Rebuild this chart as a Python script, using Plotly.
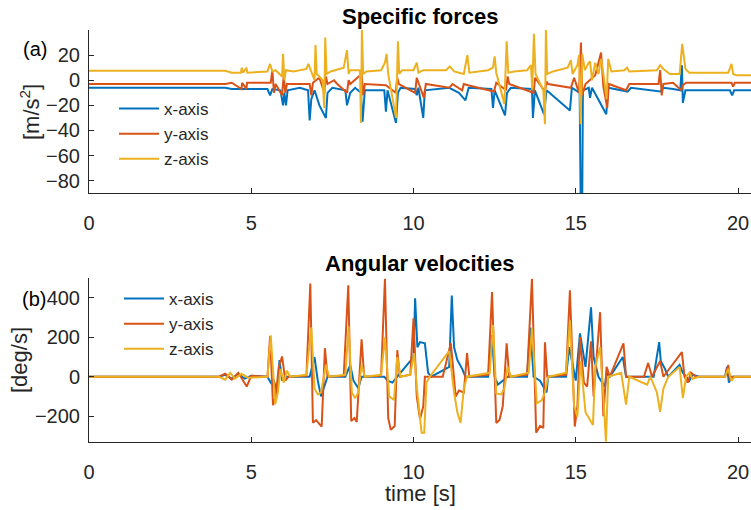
import plotly.graph_objects as go
from plotly.subplots import make_subplots

# ---------------- DATA ----------------
series_names = ["x-axis", "y-axis", "z-axis"]
colors = ["#0072BD", "#D95319", "#EDB120"]

# Specific forces [m/s^2]
fx_t = [0, 4.2, 4.4, 5.5, 5.58, 5.65, 5.9, 5.98, 6.02, 6.07, 6.12, 6.5, 6.75, 6.8, 6.85, 6.95, 7.1, 7.3, 7.35, 7.5,
        7.9, 7.95, 8.05, 8.2, 8.38, 8.43, 8.5, 9.1, 9.15, 9.2, 9.46, 9.52, 9.6, 10.05, 10.1, 10.15, 10.3, 10.35,
        11.1, 11.4, 11.6, 11.7, 12.4, 12.45, 12.5, 12.82, 12.88, 13.0, 13.65, 13.68, 13.74, 14.02, 14.1,
        14.82, 14.88, 15.12, 15.15, 15.2, 15.22, 15.4, 15.44, 15.5, 15.94, 16.0, 16.6, 16.7, 17.6, 17.7,
        18.0, 18.22, 18.27, 18.3, 18.38, 19.75, 19.82, 19.88, 20.4]
fx_v = [-6, -6, -7, -7, -12, -7, -8, -20, -10, -20, -8, -6, -8, -32, -15, -8, -20, -30, -10, -6,
        -8, -20, -10, -6, -10, -33, -8, -8, -25, -8, -34, -10, -6, -7, -12, -6, -30, -8,
        -6, -10, -16, -6, -7, -22, -8, -28, -10, -6, -7, -30, -8, -27, -8,
        -24, -6, -10, -95, -95, -8, -6, -14, -6, -27, -6, -9, -6, -9, -6,
        -7, -8, 12, -18, -8, -8, -12, -8, -8]

fy_t = [0, 4.2, 4.4, 4.7, 4.72, 4.85, 4.87, 5.5, 5.6, 5.65, 5.7, 5.75, 5.95, 6.0, 6.05, 6.1,
        6.8, 6.85, 6.9, 7.1, 7.25, 7.3, 7.35, 7.55, 7.65, 7.95, 8.0, 8.05, 8.4, 8.45, 8.5,
        9.15, 9.45, 9.5, 9.55, 10.05, 10.1, 10.32, 10.38, 11.1, 11.2, 11.5, 11.55, 11.68,
        12.48, 12.55, 12.85, 12.9, 12.95, 13.7, 13.75, 14.05, 14.1, 14.15,
        14.85, 14.95, 15.1, 15.16, 15.2, 15.3, 15.6, 15.78, 15.85, 15.97, 16.02,
        16.55, 16.65, 17.55, 17.6, 17.65, 17.7, 18.0, 18.25, 18.3, 18.4, 19.8, 19.85, 19.9, 20.4]
fy_v = [-3, -3, -2, -7, -2, -7, -2, -2, -2, 8, -10, -3, -12, 4, -10, -3,
        -3, -12, -2, 2, -10, 3, -3, 0, -3, -10, 0, -3, 5, -12, -3,
        -4, -10, 2, -3, -10, 2, -14, -3, -6, -3, -8, -3, -4,
        -9, -2, -8, 3, -3, -10, 2, -9, -1, -3,
        -6, 2, -10, 30, -12, -3, 4, 22, -5, -22, -3,
        -8, -3, -3, 8, -12, -3, -2, -8, -4, -2, -2, -5, -2, -2]

fz_t = [0, 4.2, 4.4, 4.68, 4.71, 4.75, 4.85, 4.88, 5.5, 5.58, 5.65, 5.75, 5.95, 5.98, 6.02, 6.07, 6.3,
        6.7, 6.76, 6.85, 6.95, 6.98, 7.02, 7.2, 7.25, 7.28, 7.32, 7.45, 7.85, 7.95, 8.0, 8.05,
        8.35, 8.38, 8.41, 8.45, 8.55, 9.0, 9.12, 9.17, 9.22, 9.46, 9.52, 9.56, 9.65,
        10.0, 10.1, 10.15, 10.3, 11.0, 11.12, 11.25, 11.55, 11.66, 11.72,
        12.3, 12.45, 12.5, 12.55, 12.8, 12.87, 12.92, 13.1, 13.5, 13.62, 13.66, 13.71, 13.76,
        14.0, 14.05, 14.08, 14.12, 14.3, 14.75, 14.85, 14.9, 15.05, 15.1, 15.15, 15.2, 15.28,
        15.4, 15.44, 15.5, 15.6, 15.7, 15.78, 15.85, 15.95, 16.0, 16.1, 16.5, 16.58, 16.65,
        17.5, 17.6, 17.7, 17.9, 18.2, 18.28, 18.32, 18.38, 18.5, 19.7, 19.8, 19.85, 19.95, 20.4]
fz_v = [7.5, 7.5, 6, 6, 10, 6, 10, 6, 7, 13, 7, 8, 3, 21, 0, 8, 7,
        9, 13, 6, 0, 28, 5, 0, -22, 34, 5, 7, 10, 24, 5, 8,
        8, -34, 40, 5, 7, 8, 14, 21, 5, -30, 31, 5, 8,
        8, 14, 6, 8, 8, 11, 7, 5, 20, 6,
        8, 10, 19, 6, -19, 31, 6, 7, 8, 12, -8, 37, 5,
        -8, -35, 40, 5, 7, 10, 16, 5, 12, 20, -35, 21, 8,
        14, 15, 0, 14, 5, 17, 5, -15, 17, 7, 8, 10, 7,
        8, 12, 9, 5, 5, 29, 22, 9, 6, 6, 13, 5, 4, 4]

# Angular velocities [deg/s]
wx_t = [0, 4.0, 4.2, 4.4, 4.6, 4.8, 5.0, 5.5, 5.6, 5.68, 5.8, 5.87, 5.95, 6.05, 6.8,
        6.95, 7.05, 7.15, 7.25, 7.35, 7.9, 8.05, 8.15, 8.3, 8.4, 9.1, 9.2, 9.35, 9.5,
        10.0, 10.05, 10.12, 10.2, 10.35, 10.45, 10.55, 11.1, 11.18, 11.25, 11.35, 11.5, 11.6,
        12.3, 12.42, 12.5, 12.6, 12.75, 12.9, 13.5, 13.6, 13.7, 13.9, 14.1, 14.15,
        14.7, 14.8, 15.0, 15.13, 15.3, 15.47, 15.55, 15.7, 15.9, 15.95, 16.05,
        16.45, 16.55, 17.4, 17.57, 17.62, 17.75, 17.85, 18.2, 18.3, 18.5, 18.6, 18.8,
        19.6, 19.66, 19.72, 19.8, 20.4]
wx_v = [0, 0, 10, -10, 15, -10, 5, 0, -30, -10, -80, 85, -20, 0, 0,
        100, -20, -100, -50, 0, 0, 60, -20, -58, 0, 0, -20, -30, 0,
        100, 398, 150, 176, 170, 20, 0, 50, 413, 150, 85, 40, 0,
        0, 210, 0, -40, -20, 0, 0, 250, 0, -20, -80, 0,
        0, 150, -20, 220, 50, 353, 100, 0, -50, 20, 0,
        100, 0, 0, 176, 80, 40, 0, 60, 20, -20, 10, 0,
        0, 50, -30, 0, 0]

wy_t = [0, 4.0, 4.2, 4.4, 4.6, 4.86, 5.0, 5.5, 5.58, 5.67, 5.75, 5.85, 5.95, 6.05, 6.15, 6.7,
        6.82, 6.9, 7.0, 7.1, 7.17, 7.27, 7.35, 7.85, 7.99, 8.08, 8.18, 8.25, 8.32, 8.4, 8.48, 9.0,
        9.12, 9.22, 9.3, 9.42, 9.5, 9.58, 9.9, 10.0, 10.1, 10.2, 10.3, 10.35, 10.9,
        11.15, 11.3, 11.4, 11.55, 11.65, 11.72, 12.3, 12.42, 12.55, 12.65, 12.75, 12.87, 12.95,
        13.5, 13.65, 13.78, 13.9, 14.0, 14.05, 14.12, 14.7, 14.82, 14.97, 15.05, 15.13,
        15.25, 15.35, 15.47, 15.55, 15.75, 15.85, 15.95, 16.05, 16.47, 16.55, 17.1, 17.23, 17.35,
        17.6, 17.7, 18.27, 18.35, 18.45, 18.55, 18.7, 19.6, 19.7, 19.75, 19.85, 20.4]
wy_v = [0, 0, 15, -15, 20, -50, 5, 0, 206, -145, -100, 50, 103, -20, 0, 5,
        474, -234, -220, -240, -253, 145, 0, 5, 464, -225, -210, -230, -60, 190, 0, 5,
        498, -210, -270, -250, 135, 0, 10, 297, -100, -215, -150, 0, 0,
        170, -100, -70, -80, 120, 0, 10, 430, -235, -220, -150, 170, 0,
        10, 498, -285, -250, -260, 175, 0, 10, 439, -253, -150, 201,
        -30, -50, 180, -100, 328, -200, 50, 0, 170, 0, 0, 70, 0,
        80, 0, 125, 0, -30, 20, 0, 0, 60, -20, 0, 0]

wz_t = [0, 4.0, 4.2, 4.35, 4.5, 4.7, 4.9, 5.5, 5.6, 5.7, 5.74, 5.82, 5.9, 6.0, 6.1, 6.2, 6.7,
        6.85, 6.95, 7.05, 7.15, 7.3, 7.4, 7.9, 8.0, 8.1, 8.2, 8.3, 8.4, 8.5, 9.0,
        9.12, 9.25, 9.4, 9.5, 9.6, 9.9, 10.02, 10.1, 10.25, 10.33, 10.4, 10.5,
        11.1, 11.25, 11.35, 11.45, 11.55, 11.65, 12.35, 12.45, 12.55, 12.7, 12.8, 12.9, 13.0,
        13.55, 13.65, 13.8, 13.95, 14.05, 14.15, 14.7, 14.82, 14.95, 15.05, 15.15, 15.3,
        15.53, 15.6, 15.75, 15.85, 15.93, 16.0, 16.4, 16.55, 16.65, 17.2, 17.3, 17.5, 17.6,
        17.7, 17.85, 18.2, 18.3, 18.4, 18.5, 18.6, 18.8, 19.6, 19.7, 19.8, 19.9, 20.4]
wz_v = [0, 0, -15, 20, -10, 15, -5, 0, 210, -40, -140, -80, 40, -30, 30, 0, 10,
        250, -60, -90, -80, 60, 0, 10, 256, -80, -110, -80, 60, 0, 10,
        200, -100, -118, 100, 0, 10, 120, -50, -285, -285, -30, 0,
        130, -80, -180, -235, -60, 0, 20, 262, -85, -90, -60, 50, 0,
        20, 247, -135, -120, -80, 0, 20, 287, -150, -203, 80, -180,
        -245, 50, 150, -100, -330, 0, 20, -142, 0, -40, 0, -80, -178,
        -60, 0, 50, -108, 0, 20, -10, 0, 0, 40, -20, 0, 0]

x_ticks = [0, 5, 10, 15, 20]
top_yticks = [-80, -60, -40, -20, 0, 20]
bot_yticks = [-200, 0, 200, 400]

# ---------------- FIGURE ----------------
W, H = 751, 510
FONT = "Liberation Sans, Arial, sans-serif"
AX = "#262626"

fig = make_subplots(rows=2, cols=1)

top = [(fx_t, fx_v), (fy_t, fy_v), (fz_t, fz_v)]
bot = [(wx_t, wx_v), (wy_t, wy_v), (wz_t, wz_v)]
for i, (t, v) in enumerate(top):
    fig.add_trace(go.Scatter(x=t, y=v, mode="lines", name=series_names[i],
                             line=dict(color=colors[i], width=2), legend="legend"), row=1, col=1)
for i, (t, v) in enumerate(bot):
    fig.add_trace(go.Scatter(x=t, y=v, mode="lines", name=series_names[i],
                             line=dict(color=colors[i], width=2), legend="legend2"), row=2, col=1)

def py(p):
    return 1 - p / H

axis_common = dict(showgrid=False, zeroline=False, showline=True, linecolor=AX, linewidth=1,
                   ticks="inside", ticklen=5, tickcolor=AX, tickwidth=1,
                   tickfont=dict(family=FONT, size=20, color=AX), mirror=False)

fig.update_xaxes(range=[0, 20.4], tickvals=x_ticks, ticklabelstandoff=12, **axis_common)
fig.update_yaxes(ticklabelstandoff=4, **axis_common)
fig.update_yaxes(range=[-90, 40], tickvals=top_yticks, domain=[py(193.3), py(30)], row=1, col=1)
fig.update_yaxes(range=[-330, 500], tickvals=bot_yticks, domain=[py(441.7), py(278.3)], row=2, col=1)

legend_common = dict(font=dict(family=FONT, size=17, color=AX), bgcolor="rgba(0,0,0,0)",
                     borderwidth=0, xanchor="left", yanchor="top", itemwidth=40,
                     tracegroupgap=0)
fig.update_layout(
    width=W, height=H,
    margin=dict(l=89, r=0, t=0, b=0),
    plot_bgcolor="white", paper_bgcolor="white",
    legend=dict(x=(114 - 89) / 662, y=py(91), **legend_common),
    legend2=dict(x=(119 - 89) / 662, y=py(281), **legend_common),
    showlegend=True,
)

annots = [
    dict(text="<b>Specific forces</b>", x=0.5, y=py(16), size=22),
    dict(text="<b>Angular velocities</b>", x=0.5, y=py(263), size=22),
    dict(text="time [s]", x=0.5, y=py(493), size=22),
]
for a in annots:
    fig.add_annotation(text=a["text"], xref="paper", yref="paper", x=a["x"], y=a["y"],
                       xanchor="center", yanchor="middle", showarrow=False,
                       font=dict(family=FONT, size=a["size"], color="black" if "<b>" in a["text"] else AX))

fig.add_annotation(text="[m/s<sup>2</sup>]", xref="paper", yref="paper", x=(30 - 89) / 662, y=py(112),
                   xanchor="center", yanchor="middle", textangle=-90, showarrow=False,
                   font=dict(family=FONT, size=22, color=AX))
fig.add_annotation(text="[deg/s]", xref="paper", yref="paper", x=(19 - 89) / 662, y=py(360),
                   xanchor="center", yanchor="middle", textangle=-90, showarrow=False,
                   font=dict(family=FONT, size=22, color=AX))
fig.add_annotation(text="(a)", xref="paper", yref="paper", x=(35 - 89) / 662, y=py(49),
                   xanchor="center", yanchor="middle", showarrow=False,
                   font=dict(family=FONT, size=20, color="black"))
fig.add_annotation(text="(b)", xref="paper", yref="paper", x=(34 - 89) / 662, y=py(299),
                   xanchor="center", yanchor="middle", showarrow=False,
                   font=dict(family=FONT, size=20, color="black"))

fig.write_html("out.html")
